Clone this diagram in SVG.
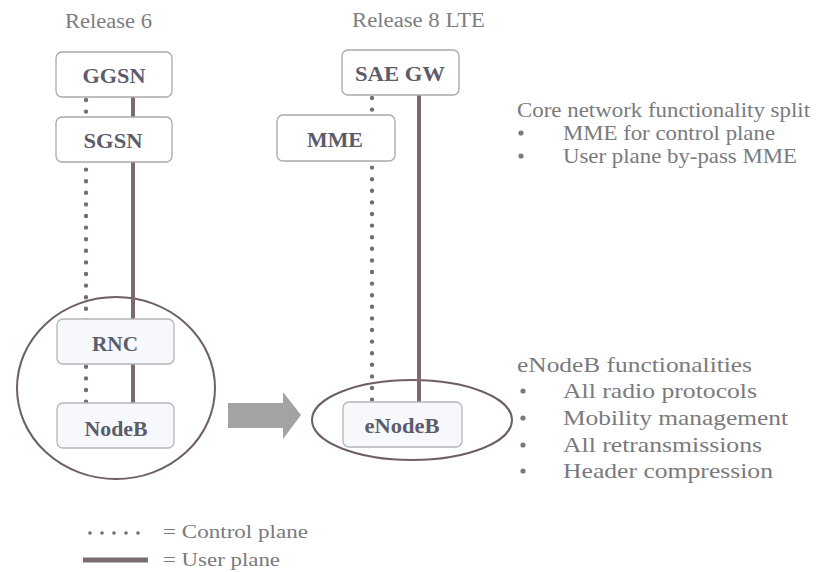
<svg xmlns="http://www.w3.org/2000/svg" width="816" height="572" viewBox="0 0 816 572">
<style>
text{font-family:"Liberation Serif","Times New Roman",serif}
.box{fill:#ffffff;stroke:#a9a9ae;stroke-width:1.3}
.box2{fill:#f7f8fb;stroke:#b3b5bb;stroke-width:1.3}
.lbl{font-size:21px;font-weight:bold;fill:#5c5c6a;text-anchor:middle}
.hdr{font-size:20px;fill:#7d7d80}
.txt{font-size:21px;fill:#7a7a7d}
.ctl{fill:none;stroke:#6f6f74;stroke-width:4.4;stroke-linecap:round;stroke-dasharray:0 11.6}
.usr{fill:none;stroke:#7c6a6e;stroke-width:4}
.ring{fill:none;stroke:#6e5f63;stroke-width:2}
.bul{fill:#7a7a7d}
</style>
<rect width="816" height="572" fill="#ffffff"/>
<text class="hdr" x="65" y="28" textLength="87" lengthAdjust="spacingAndGlyphs">Release 6</text>
<text class="hdr" x="352" y="27" textLength="133" lengthAdjust="spacingAndGlyphs">Release 8 LTE</text>

<g id="rings">
<ellipse class="ring" cx="116" cy="388" rx="99" ry="91"/>
<ellipse class="ring" cx="412" cy="420" rx="100" ry="40"/>
</g>

<g id="connectors">
<line class="ctl" x1="86" y1="100" x2="86" y2="402"/>
<line class="usr" x1="133" y1="97" x2="133" y2="403"/>
<line class="ctl" x1="372" y1="98" x2="372" y2="402"/>
<line class="usr" x1="419" y1="95" x2="419" y2="402"/>
</g>

<g id="ggsn"><rect class="box" x="56" y="52" width="116" height="45" rx="6"/><text class="lbl" x="114" y="83" textLength="63" lengthAdjust="spacingAndGlyphs">GGSN</text></g>
<g id="sgsn"><rect class="box" x="56" y="117" width="116" height="45" rx="6"/><text class="lbl" x="113" y="148" textLength="59" lengthAdjust="spacingAndGlyphs">SGSN</text></g>
<g id="rnc"><rect class="box2" x="57" y="319" width="117" height="45" rx="6"/><text class="lbl" x="115" y="351" textLength="46" lengthAdjust="spacingAndGlyphs">RNC</text></g>
<g id="nodeb"><rect class="box2" x="57" y="403" width="117" height="45" rx="6"/><text class="lbl" x="116" y="436" textLength="63" lengthAdjust="spacingAndGlyphs">NodeB</text></g>
<g id="saegw"><rect class="box" x="342" y="50" width="117" height="45" rx="6"/><text class="lbl" x="400" y="81" textLength="90" lengthAdjust="spacingAndGlyphs">SAE GW</text></g>
<g id="mme"><rect class="box" x="277" y="115" width="118" height="46" rx="6"/><text class="lbl" x="335" y="147" textLength="56" lengthAdjust="spacingAndGlyphs">MME</text></g>
<g id="enodeb"><rect class="box2" x="343" y="402" width="119" height="45" rx="6"/><text class="lbl" x="402" y="433" textLength="75" lengthAdjust="spacingAndGlyphs">eNodeB</text></g>

<g id="arrow"><polygon points="228,403 283,403 283,392 301,415 283,439 283,428 228,428" fill="#a3a3a6"/></g>

<g id="core-text">
<text class="txt" x="517" y="117" textLength="293" lengthAdjust="spacingAndGlyphs">Core network functionality split</text>
<circle class="bul" cx="521" cy="133" r="2.6"/>
<text class="txt" x="563" y="140" textLength="212" lengthAdjust="spacingAndGlyphs">MME for control plane</text>
<circle class="bul" cx="521" cy="156" r="2.6"/>
<text class="txt" x="563" y="163" textLength="234" lengthAdjust="spacingAndGlyphs">User plane by-pass MME</text>
</g>

<g id="enb-text">
<text class="txt" x="517" y="372" textLength="235" lengthAdjust="spacingAndGlyphs">eNodeB functionalities</text>
<circle class="bul" cx="523" cy="391" r="2.6"/>
<text class="txt" x="563" y="398" textLength="194" lengthAdjust="spacingAndGlyphs">All radio protocols</text>
<circle class="bul" cx="523" cy="418" r="2.6"/>
<text class="txt" x="563" y="425" textLength="225" lengthAdjust="spacingAndGlyphs">Mobility management</text>
<circle class="bul" cx="523" cy="445" r="2.6"/>
<text class="txt" x="563" y="452" textLength="199" lengthAdjust="spacingAndGlyphs">All retransmissions</text>
<circle class="bul" cx="523" cy="471" r="2.6"/>
<text class="txt" x="563" y="478" textLength="210" lengthAdjust="spacingAndGlyphs">Header compression</text>
</g>

<g id="legend">
<line class="ctl" x1="90" y1="533" x2="150" y2="533" style="stroke-dasharray:0 12;stroke-width:3.6"/>
<text class="txt" x="163" y="538" style="font-size:18px" textLength="145" lengthAdjust="spacingAndGlyphs">= Control plane</text>
<line class="usr" x1="83" y1="560" x2="148" y2="560" style="stroke-width:5"/>
<text class="txt" x="163" y="566" style="font-size:18px" textLength="117" lengthAdjust="spacingAndGlyphs">= User plane</text>
</g>
</svg>
